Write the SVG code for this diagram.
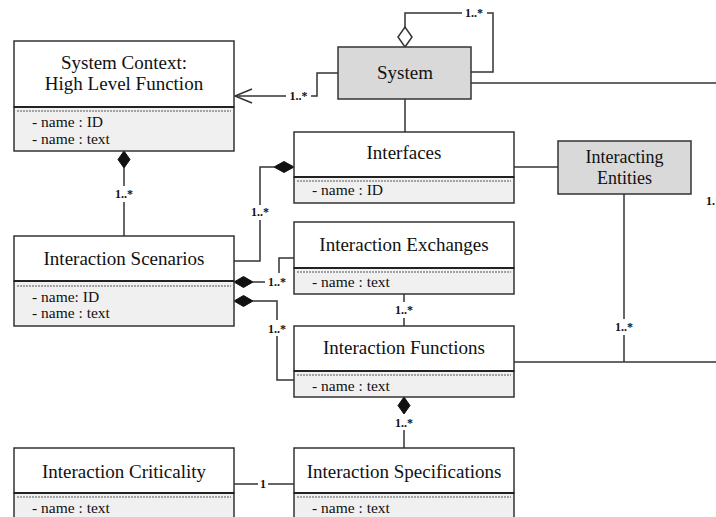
<svg xmlns="http://www.w3.org/2000/svg" width="716" height="517" viewBox="0 0 716 517">
<defs>
<style>
.box{stroke:#333;stroke-width:1.5}
.hd{fill:#fff}
.gr{fill:#d9d9d9}
.at{fill:#f0f0f0}
.dv{stroke:#222;stroke-width:2}
.ds{stroke:#555;stroke-width:1;stroke-dasharray:2,1}
.t{font-family:"Liberation Serif","Times New Roman",serif;font-size:19px;fill:#111;text-anchor:middle}
.a{font-family:"Liberation Serif","Times New Roman",serif;font-size:15.5px;fill:#111}
.m{font-family:"Liberation Serif","Times New Roman",serif;font-size:12px;font-weight:bold;fill:#111;text-anchor:middle}
.c{fill:none;stroke:#333;stroke-width:1.5}
.fd{fill:#111;stroke:#111;stroke-width:1}
.od{fill:#fff;stroke:#333;stroke-width:1.5}
</style>
</defs>
<rect width="716" height="517" fill="#fff"/>

<g id="connectors">
  <polyline class="c" points="405,27 405,13 462,13"/>
  <polyline class="c" points="487,13 493,13 493,72 471,72"/>
  <polygon class="od" points="405,47 412,37 405,27 398,37"/>
  <text class="m" x="474" y="17">1..*</text>
  <polyline class="c" points="338,73 317,73 317,96 311,96"/>
  <line class="c" x1="286" y1="96" x2="235" y2="96"/>
  <polyline class="c" points="252,89 235,96 252,103"/>
  <text class="m" x="298.5" y="100">1..*</text>
  <line class="c" x1="471" y1="83" x2="716" y2="83"/>
  <line class="c" x1="405" y1="99" x2="405" y2="132"/>
  <line class="c" x1="514" y1="167" x2="558" y2="167"/>
  <line class="c" x1="124" y1="168" x2="124" y2="186"/>
  <line class="c" x1="124" y1="202" x2="124" y2="236"/>
  <polygon class="fd" points="124,151 130,159.5 124,168 118,159.5"/>
  <text class="m" x="124" y="198">1..*</text>
  <polyline class="c" points="274,167 260,167 260,205"/>
  <polyline class="c" points="260,220 260,261 234,261"/>
  <polygon class="fd" points="294,167 284,161.5 274,167 284,172.5"/>
  <text class="m" x="260" y="216">1..*</text>
  <line class="c" x1="253" y1="282" x2="265" y2="282"/>
  <polyline class="c" points="279,273 279,258 294,258"/>
  <polygon class="fd" points="234,282 243.5,276.5 253,282 243.5,287.5"/>
  <text class="m" x="277" y="286">1..*</text>
  <polyline class="c" points="253,301 277,301 277,320"/>
  <polyline class="c" points="277,336 277,380 294,380"/>
  <polygon class="fd" points="234,301 243.5,295.5 253,301 243.5,306.5"/>
  <text class="m" x="277" y="333">1..*</text>
  <line class="c" x1="404" y1="294" x2="404" y2="302"/>
  <line class="c" x1="404" y1="318" x2="404" y2="326"/>
  <text class="m" x="404" y="314">1..*</text>
  <line class="c" x1="514" y1="362" x2="716" y2="362"/>
  <line class="c" x1="624" y1="194" x2="624" y2="319"/>
  <line class="c" x1="624" y1="335" x2="624" y2="362"/>
  <text class="m" x="624" y="331">1..*</text>
  <text class="m" x="706" y="205" style="text-anchor:start">1.</text>
  <line class="c" x1="404" y1="430" x2="404" y2="448"/>
  <polygon class="fd" points="404,397 410,405.5 404,414 398,405.5"/>
  <text class="m" x="404" y="427">1..*</text>
  <line class="c" x1="234" y1="484" x2="258" y2="484"/>
  <line class="c" x1="268" y1="484" x2="294" y2="484"/>
  <text class="m" x="263" y="488">1</text>
</g>

<g id="system-context">
  <rect class="box hd" x="14" y="41" width="220" height="66"/>
  <rect class="box at" x="14" y="107" width="220" height="44"/>
  <line class="dv" x1="14" y1="107" x2="234" y2="107"/>
  <line class="ds" x1="17" y1="111" x2="231" y2="111"/>
  <text class="t" x="124" y="69">System Context:</text>
  <text class="t" x="124" y="90">High Level Function</text>
  <text class="a" x="32" y="127">- name : ID</text>
  <text class="a" x="32" y="144">- name : text</text>
</g>

<g id="system">
  <rect class="box gr" x="338" y="47" width="133" height="52"/>
  <text class="t" x="405" y="79">System</text>
</g>

<g id="interfaces">
  <rect class="box hd" x="294" y="132" width="220" height="45"/>
  <rect class="box at" x="294" y="177" width="220" height="26"/>
  <line class="dv" x1="294" y1="177" x2="514" y2="177"/>
  <line class="ds" x1="297" y1="181" x2="511" y2="181"/>
  <text class="t" x="404" y="159">Interfaces</text>
  <text class="a" x="312" y="195">- name : ID</text>
</g>

<g id="interacting-entities">
  <rect class="box gr" x="558" y="141" width="133" height="53"/>
  <text class="t" x="624.5" y="163" style="font-size:18px">Interacting</text>
  <text class="t" x="624.5" y="184" style="font-size:18px">Entities</text>
</g>

<g id="interaction-scenarios">
  <rect class="box hd" x="14" y="236" width="220" height="45"/>
  <rect class="box at" x="14" y="281" width="220" height="45"/>
  <line class="dv" x1="14" y1="281" x2="234" y2="281"/>
  <line class="ds" x1="17" y1="286" x2="231" y2="286"/>
  <text class="t" x="124" y="265">Interaction Scenarios</text>
  <text class="a" x="32" y="302">- name: ID</text>
  <text class="a" x="32" y="318">- name : text</text>
</g>

<g id="interaction-exchanges">
  <rect class="box hd" x="294" y="222" width="220" height="46"/>
  <rect class="box at" x="294" y="268" width="220" height="26"/>
  <line class="dv" x1="294" y1="268" x2="514" y2="268"/>
  <line class="ds" x1="297" y1="272" x2="511" y2="272"/>
  <text class="t" x="404" y="251">Interaction Exchanges</text>
  <text class="a" x="312" y="287">- name : text</text>
</g>

<g id="interaction-functions">
  <rect class="box hd" x="294" y="326" width="220" height="45"/>
  <rect class="box at" x="294" y="371" width="220" height="26"/>
  <line class="dv" x1="294" y1="371" x2="514" y2="371"/>
  <line class="ds" x1="297" y1="375" x2="511" y2="375"/>
  <text class="t" x="404" y="354">Interaction Functions</text>
  <text class="a" x="312" y="391">- name : text</text>
</g>

<g id="interaction-criticality">
  <rect class="box hd" x="14" y="448" width="220" height="45"/>
  <rect class="box at" x="14" y="493" width="220" height="30"/>
  <line class="dv" x1="14" y1="493" x2="234" y2="493"/>
  <line class="ds" x1="17" y1="497" x2="231" y2="497"/>
  <text class="t" x="124" y="478">Interaction Criticality</text>
  <text class="a" x="32" y="513">- name : text</text>
</g>

<g id="interaction-specifications">
  <rect class="box hd" x="294" y="448" width="220" height="45"/>
  <rect class="box at" x="294" y="493" width="220" height="30"/>
  <line class="dv" x1="294" y1="493" x2="514" y2="493"/>
  <line class="ds" x1="297" y1="497" x2="511" y2="497"/>
  <text class="t" x="404" y="478">Interaction Specifications</text>
  <text class="a" x="312" y="513">- name : text</text>
</g>
</svg>
